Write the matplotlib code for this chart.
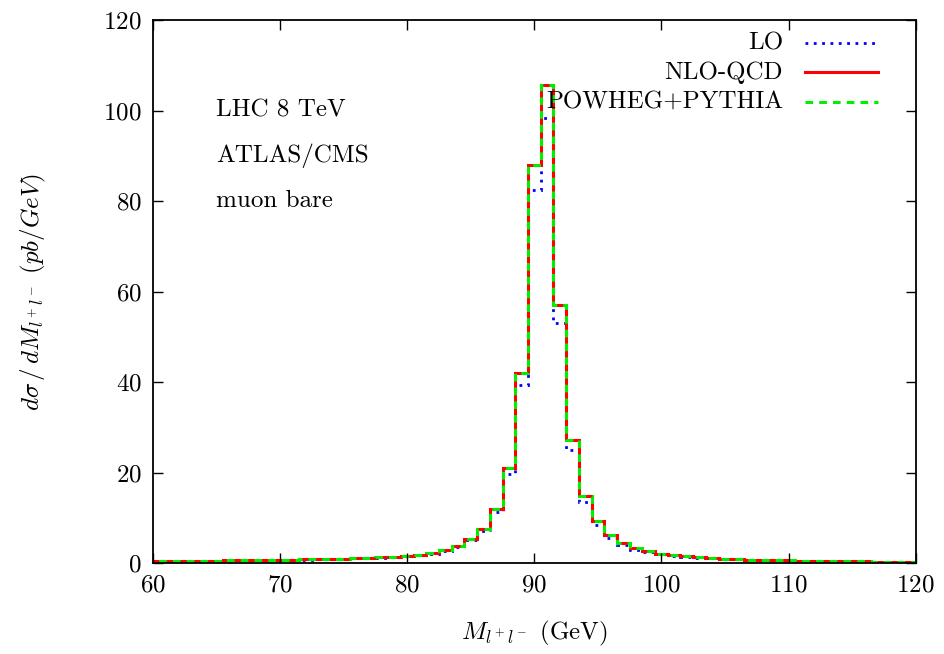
import numpy as np
import matplotlib
matplotlib.use('Agg')
import matplotlib.pyplot as plt
from matplotlib.lines import Line2D

plt.rcParams['font.family'] = 'cmr10'
plt.rcParams['mathtext.fontset'] = 'cm'
plt.rcParams['axes.formatter.use_mathtext'] = True

# bin centres in GeV (1 GeV bins)
mass = np.arange(60, 121)

nlo = [0.45, 0.47, 0.49, 0.51, 0.53, 0.56, 0.58, 0.61, 0.64, 0.68,
       0.72, 0.76, 0.81, 0.87, 0.93, 1.00, 1.08, 1.18, 1.30, 1.45,
       1.62, 1.85, 2.25, 2.85, 3.75, 5.35, 7.6, 12.0, 21.0, 42.0,
       88.0, 105.7, 57.0, 27.2, 14.8, 9.2, 6.2, 4.5, 3.3, 2.6,
       2.1, 1.75, 1.48, 1.27, 1.10, 0.97, 0.87, 0.78, 0.70, 0.64,
       0.58, 0.53, 0.49, 0.45, 0.42, 0.39, 0.36, 0.34, 0.32, 0.30,
       0.28]

powheg = [0.45, 0.47, 0.49, 0.51, 0.53, 0.56, 0.58, 0.61, 0.64, 0.68,
          0.72, 0.76, 0.81, 0.87, 0.93, 1.00, 1.08, 1.18, 1.30, 1.45,
          1.62, 1.85, 2.25, 2.85, 3.75, 5.3, 7.6, 11.9, 21.0, 42.0,
          88.0, 105.6, 57.0, 27.2, 14.8, 9.2, 6.2, 4.5, 3.3, 2.6,
          2.1, 1.75, 1.48, 1.27, 1.10, 0.97, 0.87, 0.78, 0.70, 0.64,
          0.58, 0.53, 0.49, 0.45, 0.42, 0.39, 0.36, 0.34, 0.32, 0.30,
          0.28]

lo = [0.43, 0.45, 0.47, 0.49, 0.51, 0.53, 0.55, 0.58, 0.61, 0.64,
      0.68, 0.72, 0.76, 0.82, 0.88, 0.94, 1.02, 1.11, 1.22, 1.36,
      1.52, 1.73, 2.1, 2.65, 3.5, 5.0, 7.1, 11.2, 19.7, 39.3,
      82.4, 98.3, 53.0, 25.1, 13.6, 8.4, 5.5, 3.9, 2.95, 2.4,
      1.95, 1.62, 1.38, 1.18, 1.02, 0.90, 0.81, 0.73, 0.66, 0.60,
      0.54, 0.50, 0.46, 0.42, 0.39, 0.36, 0.34, 0.32, 0.30, 0.28,
      0.26]

edges = np.append(mass - 0.5, mass[-1] + 0.5)

fig = plt.figure(figsize=(9.44, 6.54), dpi=100)
ax = fig.add_axes([0.162, 0.139, 0.808, 0.830])

ax.stairs(lo, edges, color='blue', lw=2.0, ls=(0, (1, 2)))
ax.stairs(nlo, edges, color='red', lw=2.2, ls='-')
ax.stairs(powheg, edges, color='#00ee00', lw=2.2, ls=(0, (2.5, 2)))

ax.set_xlim(60, 120)
ax.set_ylim(0, 120)
ax.set_xticks(np.arange(60, 121, 10))
ax.set_yticks(np.arange(0, 121, 20))
ax.tick_params(direction='in', top=True, right=True, length=7, width=1.0,
               labelsize=18, pad=8)
for s in ax.spines.values():
    s.set_linewidth(1.3)

ax.set_xlabel(r'$M_{l^+l^-}$ (GeV)', fontsize=18, labelpad=16)
ax.set_ylabel(r'$d\sigma\,/\,dM_{l^+l^-}\ (pb/GeV)$', fontsize=18, labelpad=40)

ax.text(65, 100, 'LHC 8 TeV', fontsize=18, va='center')
ax.text(65, 90, 'ATLAS/CMS', fontsize=18, va='center')
ax.text(65, 80, 'muon bare', fontsize=18, va='center')

# key drawn with right-aligned labels
key = [('LO', 'blue', (0, (1, 2)), 2.0),
       ('NLO-QCD', 'red', '-', 2.2),
       ('POWHEG+PYTHIA', '#00ee00', (0, (2.5, 2)), 2.2)]
for i, (lab, col, style, w) in enumerate(key):
    yk = 0.958 - i * 0.054
    ax.text(0.826, yk, lab, transform=ax.transAxes, ha='right', va='center',
            fontsize=18)
    ax.add_line(Line2D([0.855, 0.950], [yk, yk], transform=ax.transAxes,
                       color=col, ls=style, lw=w))

fig.savefig('out.png', dpi=100)
